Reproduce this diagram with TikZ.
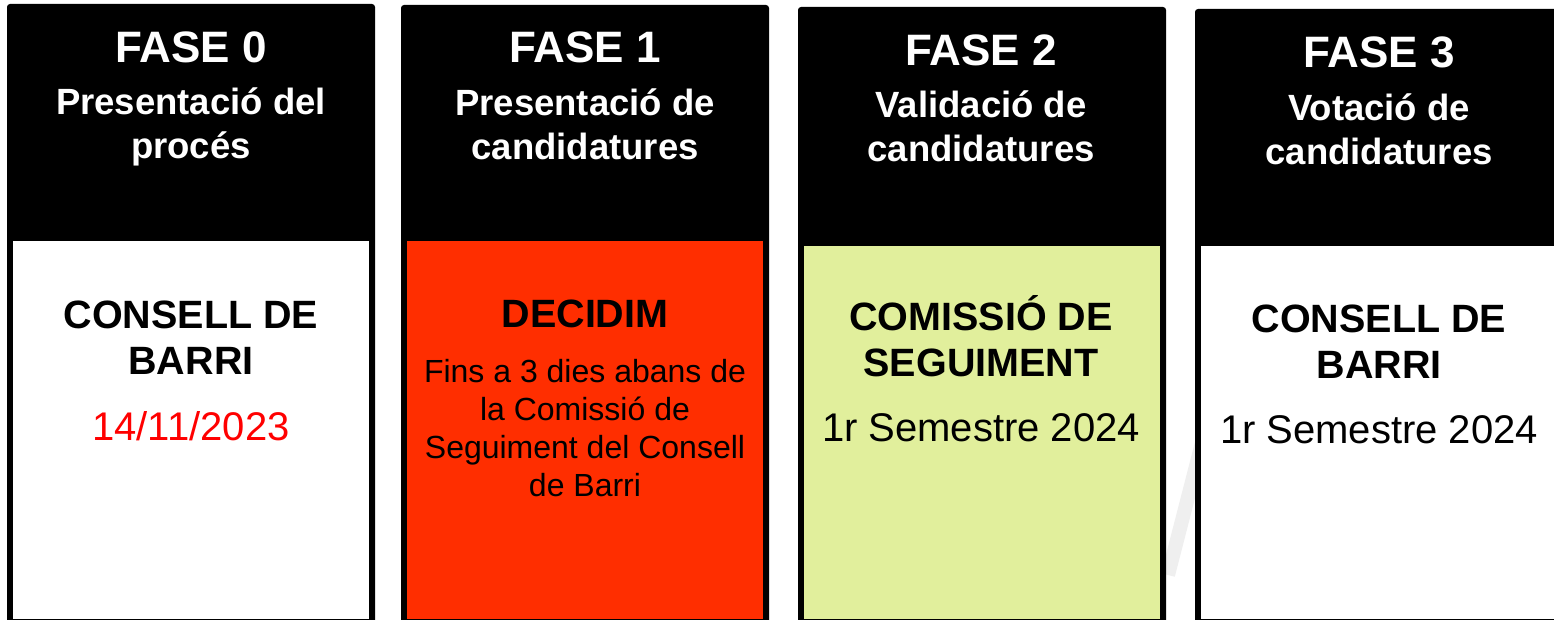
\documentclass[tikz,border=0pt]{standalone}
\usepackage{fontspec}
\setmainfont{Liberation Sans}
\definecolor{redbody}{HTML}{FF2E00}
\definecolor{greenbody}{HTML}{E1EF9C}
\definecolor{datered}{HTML}{FF0000}
\definecolor{wmark}{HTML}{EFEFEF}
\tikzset{
  colbox/.style={fill=black, rounded corners=3pt},
  fasetitle/.style={font=\bfseries\fontsize{44}{50}\selectfont, text=white, inner sep=0pt, anchor=base},
  fasesub/.style={font=\bfseries\fontsize{36.5}{44}\selectfont, text=white, align=center, inner sep=0pt, anchor=base},
  bodyhead/.style={font=\bfseries\fontsize{39.5}{46}\selectfont, align=center, inner sep=0pt, anchor=base},
  bodydate/.style={font=\fontsize{40}{46}\selectfont, inner sep=0pt, anchor=base},
  bodysmall/.style={font=\fontsize{32}{37.7}\selectfont, align=center, inner sep=0pt, anchor=base},
}
\begin{document}
\begin{tikzpicture}[x=1pt,y=-1pt]
\useasboundingbox (0,0) rectangle (1554,620);
\clip (0,0) rectangle (1554,620);
\fill[white] (0,0) rectangle (1554,620);
% faint watermark band
\draw[wmark, line width=14pt] (1168,575) -- (1204,435);
% columns
\fill[colbox] (7,4) rectangle (375,630);
\fill[white] (13,241) rectangle (369,619);
\fill[colbox] (401,5) rectangle (769,630);
\fill[redbody] (407,241) rectangle (763,619);
\fill[colbox] (798,7) rectangle (1166,630);
\fill[greenbody] (804,246) rectangle (1160,619);
\fill[colbox] (1195,9) rectangle (1563,630);
\fill[white] (1201,246) rectangle (1557,619);
% column 0 (multi-line nodes: base = last line baseline)
\node[fasetitle] (t0) at (191,63) {FASE 0};
\node[fasesub] (s0) at (191,159) {Presentació del\\procés};
\node[bodyhead] (h0) at (191,374) {CONSELL DE\\BARRI};
\node[bodydate, text=datered] (d0) at (191,440) {14/11/2023};
% column 1
\node[fasetitle] (t1) at (585,63) {FASE 1};
\node[fasesub] (s1) at (585,160) {Presentació de\\candidatures};
\node[bodyhead] (h1) at (585,327) {DECIDIM};
\node[bodysmall] (n1) at (585,496) {Fins a 3 dies abans de\\la Comissió de\\Seguiment del Consell\\de Barri};
% column 2
\node[fasetitle] (t2) at (981,66) {FASE 2};
\node[fasesub] (s2) at (981,162) {Validació de\\candidatures};
\node[bodyhead] (h2) at (981,376) {COMISSIÓ DE\\SEGUIMENT};
\node[bodydate] (d2) at (981,441) {1r Semestre 2024};
% column 3
\node[fasetitle] (t3) at (1379,68) {FASE 3};
\node[fasesub] (s3) at (1379,165) {Votació de\\candidatures};
\node[bodyhead] (h3) at (1379,378) {CONSELL DE\\BARRI};
\node[bodydate] (d3) at (1379,443) {1r Semestre 2024};
\end{tikzpicture}
\end{document}
